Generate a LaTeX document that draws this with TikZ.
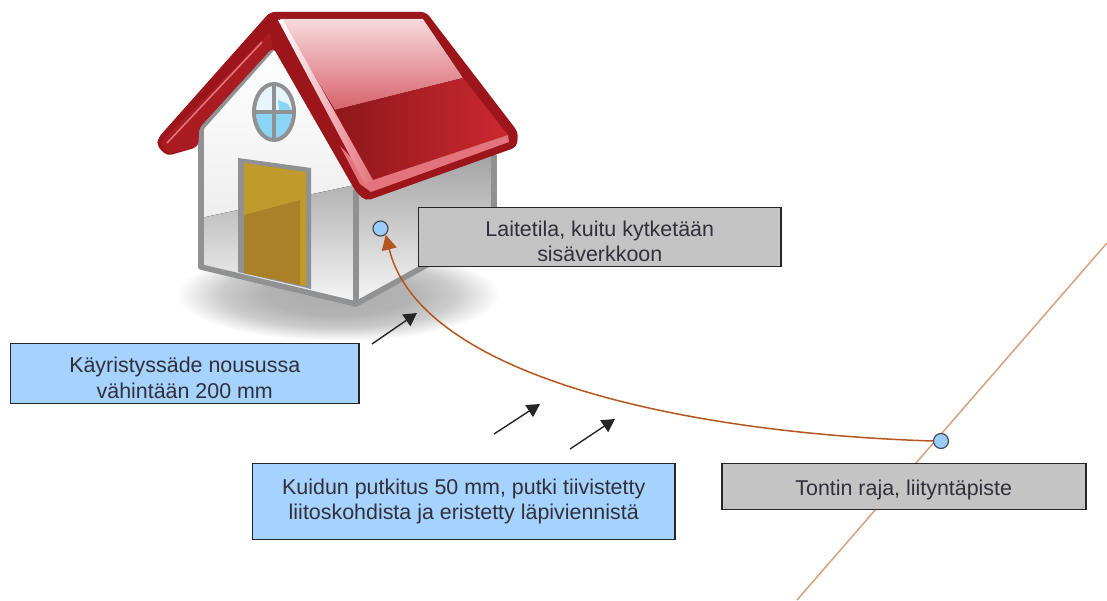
\documentclass[tikz,border=0pt]{standalone}
\usepackage{fontspec}
\setmainfont{Liberation Sans}
\usetikzlibrary{arrows.meta,shapes.geometric}
\definecolor{frameg}{HTML}{8F9193}
\definecolor{roofd}{HTML}{9C151B}
\definecolor{roofe}{HTML}{A81C22}
\definecolor{roofp}{HTML}{E4747C}
\definecolor{roofa}{HTML}{F7DADC}
\definecolor{roofb}{HTML}{D8626A}
\definecolor{roofc}{HTML}{8C181C}
\definecolor{rooff}{HTML}{CC282F}
\definecolor{gold}{HTML}{C09A2C}
\definecolor{goldd}{HTML}{AB8028}
\definecolor{glass}{HTML}{E6F4FB}
\definecolor{glassd}{HTML}{8AD4F5}
\definecolor{link}{HTML}{B5561F}
\definecolor{linkl}{HTML}{D9A07E}
\definecolor{boxg}{HTML}{C4C4C4}
\definecolor{boxb}{HTML}{A6D2FF}
\definecolor{dotb}{HTML}{99CCFF}
\definecolor{labtext}{HTML}{30303A}
\pgfdeclareradialshading{shadowblur}{\pgfpoint{0bp}{0bp}}{
 color(0bp)=(black!32);color(11bp)=(black!30);color(18bp)=(black!20);color(25bp)=(white);color(50bp)=(white)}
\tikzset{
 x=1bp,y=-1bp,
 lab/.style={draw=black!85,line width=1.5pt,align=center,font=\fontsize{21.5}{25.5}\selectfont,text=labtext,inner sep=0pt,anchor=north west},
 greybox/.style={lab,fill=boxg},
 bluebox/.style={lab,fill=boxb},
 dot/.style={circle,draw=black!70,line width=1.2pt,fill=dotb,minimum size=15bp,inner sep=0pt},
 blackarrow/.style={draw=black!85,line width=1.4pt,-{Triangle[length=13bp,width=14bp]}},
 wallline/.style={draw=frameg,line width=5.6pt,line join=round},
}
\begin{document}
\begin{tikzpicture}
\useasboundingbox (0,0) rectangle (1107,601);
\fill[white] (0,0) rectangle (1107,601);
% shadow
\shade[shading=shadowblur] (176,248) rectangle (500,341);
% left wall
\fill[top color=white,bottom color=black!10] (201,128) -- (273,47) -- (355,190) -- (355,305) -- (201,267) -- cycle;
\fill[top color=black!30,bottom color=black!3] (201,218) -- (355,185) -- (355,305) -- (201,267) -- cycle;
% right wall
\fill[top color=black!36,bottom color=black!3] (357,195) -- (494,155) -- (494,228) -- (357,304) -- cycle;
\draw[wallline] (273,47) -- (201,128) -- (201,267) -- (356,304) -- (356,190);
\draw[wallline] (356,304) -- (494,228) -- (494,155);
% door
\fill[frameg] (238,158) -- (311,168) -- (311,289) -- (238,272) -- cycle;
\fill[gold] (244,163) -- (306,172) -- (306,286) -- (244,273) -- cycle;
\fill[goldd] (244,215) -- (300,200) -- (300,285) -- (244,273) -- cycle;
% window
\fill[glass] (274,112) ellipse [x radius=19,y radius=27];
\fill[glassd] (256,114) -- (292,114) -- (289,130) -- (281,138) -- (267,138) -- (259,130) -- cycle;
\fill[glassd] (278,100) -- (288,104) -- (291,110) -- (279,110) -- cycle;
\draw[frameg,line width=4pt] (274,112) ellipse [x radius=20,y radius=28];
\draw[frameg,line width=3.6pt] (274,84) -- (274,140) (254,112) -- (294,112);
% roof
\fill[roofd,rounded corners=5bp] (270,12) -- (426,12) -- (518,132) -- (517,147) -- (366,201) -- (356,192) -- (273,47) -- (199,128) -- (198,147) -- (167,156) -- (157,146) -- (158,138) -- cycle;
\fill[roofe,rounded corners=2bp] (270,32) -- (273,47) -- (199,128) -- (198,146) -- (168,154) -- (160,143) -- cycle;
\draw[roofp,line width=1.6pt] (167,143) -- (262,42);
% right pane
\fill[top color=roofa,bottom color=roofb] (280,19) -- (423,19) -- (463,78) -- (335,110) -- cycle;
\shade[left color=roofc,right color=rooff] (335,110) -- (463,78) -- (508,135) -- (373,180) -- cycle;
\fill[roofp] (373,180) -- (508,135) -- (509,142) -- (371,192) -- (360,184) -- (340,146) -- cycle;
\shade[left color=white,right color=roofp] (278,20) -- (283,20) -- (373,180) -- (365,184) -- cycle;
% connectors
\coordinate (boundaryS) at (797,600);
\coordinate (boundaryN) at (1107,243);
\draw[linkl,line width=1.5pt] (boundaryS) -- (boundaryN);
\coordinate (a1s) at (372,344); \coordinate (a1e) at (417,313);
\coordinate (a2s) at (494,434); \coordinate (a2e) at (540,404);
\coordinate (a3s) at (570,449); \coordinate (a3e) at (615,419);
\draw[blackarrow] (a1s) -- (a1e);
\draw[blackarrow] (a2s) -- (a2e);
\draw[blackarrow] (a3s) -- (a3e);
% labels
\node[greybox,minimum width=362bp,minimum height=59bp] (laite) at (418,207) {\rule{0pt}{24bp}Laitetila, kuitu kytketään\\sisäverkkoon};
\node[greybox,minimum width=364bp,minimum height=46bp] (tontti) at (721,463) {\rule{0pt}{22bp}Tontin raja, liityntäpiste};
\node[bluebox,minimum width=348bp,minimum height=60bp] (kayr) at (10,343) {\rule{0pt}{24bp}Käyristyssäde nousussa\\vähintään 200 mm};
\node[bluebox,minimum width=422bp,minimum height=76bp] (kuitu) at (252,463) {Kuidun putkitus 50 mm, putki tiivistetty\\liitoskohdista ja eristetty läpiviennistä};
\node[dot] (p1) at (380.5,228.5) {};
\node[dot] (p2) at (941,441) {};
\draw[link,line width=1.5pt,-{Triangle[length=15bp,width=15bp]}] (p2.west) .. controls (680,433) and (420,375) .. (p1.-50);
\end{tikzpicture}
\end{document}
